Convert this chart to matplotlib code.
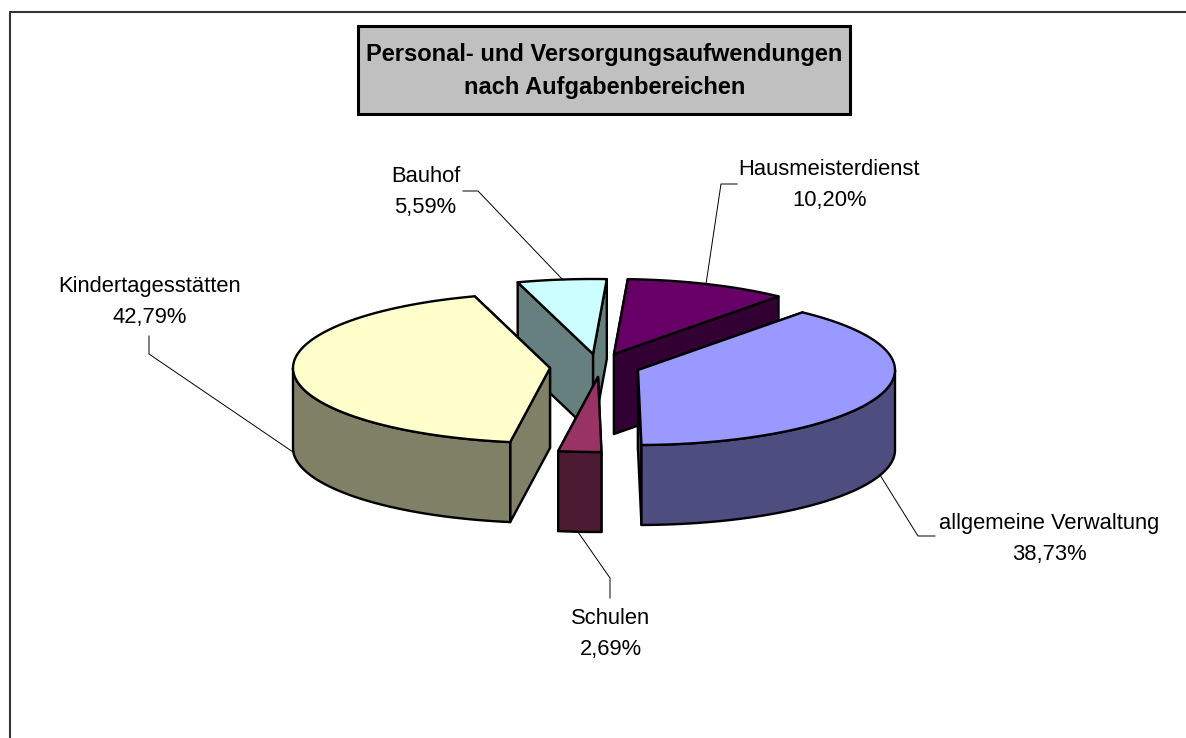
import numpy as np
import matplotlib
matplotlib.use('Agg')
from matplotlib import pyplot as plt
from matplotlib.patches import Polygon, Rectangle

plt.rcParams['font.family'] = ['Liberation Sans', 'DejaVu Sans']

# data, clockwise from the first slice
categories = ['allgemeine Verwaltung', 'Schulen', 'Kindertagesstätten', 'Bauhof', 'Hausmeisterdienst']
values = [38.73, 2.69, 42.79, 5.59, 10.20]
top_colors = ['#9999FF', '#993366', '#FFFFCC', '#CCFFFF', '#660066']
side_colors = ['#4D4D80', '#4D1A33', '#808066', '#668080', '#330033']
title_lines = ['Personal- und Versorgungsaufwendungen', 'nach Aufgabenbereichen']

# layout of the pie in pixels, each slice has its own apex because of the explosion
apexes = [(638, 370), (598, 377), (550, 368), (593, 354), (614, 354)]
rx, ry = 257, 75
depth = 80
start_angle = 39.8
draw_order = [4, 3, 2, 0, 1]

# label centre and leader line for each slice
label_pos = [(1049, 539), (610.5, 634), (150, 302), (425.5, 192), (829.5, 185)]
leaders = [
    [(935, 536), (918, 536), (880, 475)],
    [(610, 598), (610, 578), (578, 532)],
    [(149, 336), (149, 354), (293, 452)],
    [(463, 191), (478, 191), (563, 280)],
    [(737, 184), (721, 184), (706, 284)],
]

fig = plt.figure(figsize=(11.86, 7.38), dpi=100)
ax = fig.add_axes([0, 0, 1, 1])
ax.set_xlim(0, 1186)
ax.set_ylim(738, 0)
ax.axis('off')

# chart frame, only top and left are inside the picture
ax.plot([1186, 10, 10], [12, 12, 738], color='#333333', lw=1.5, zorder=1)

shares = np.array(values) / sum(values) * 360
starts = start_angle + np.concatenate(([0], np.cumsum(shares)[:-1]))


def rim(a, ox, oy, z=0):
    t = np.radians(a)
    return np.column_stack((ox + rx * np.sin(t), oy - ry * np.cos(t) + z))


def face(pts, color, zo):
    ax.add_patch(Polygon(pts, closed=True, facecolor=color, edgecolor='black',
                         lw=1.7, joinstyle='round', zorder=zo))


zo = 2
for i in draw_order:
    a0, a1 = starts[i], starts[i] + shares[i]
    ox, oy = apexes[i]
    apex = np.array([[ox, oy]])
    apex_low = apex + [0, depth]
    arc = rim(np.linspace(a0, a1, 80), ox, oy)

    # radial walls first
    for a in sorted([a0, a1], key=lambda v: -np.cos(np.radians(v))):
        p = rim(a, ox, oy)
        face(np.vstack((apex, p, p + [0, depth], apex_low)), side_colors[i], zo)
        zo += 1

    # outer wall, front half of the rim only
    lo = max(a0, 90)
    hi = min(a1, 270)
    if hi > lo:
        wall = rim(np.linspace(lo, hi, 80), ox, oy)
        face(np.vstack((wall, (wall + [0, depth])[::-1])), side_colors[i], zo)
        zo += 1

    face(np.vstack((apex, arc)), top_colors[i], zo)
    zo += 1

# leaders and labels
for i, name in enumerate(categories):
    xs, ys = zip(*leaders[i])
    ax.plot(xs, ys, color='black', lw=0.7, zorder=50)
    pct = f'{values[i]:.2f}'.replace('.', ',') + '%'
    ax.text(label_pos[i][0], label_pos[i][1], name + '\n' + pct, ha='center', va='center',
            fontsize=15.8, linespacing=1.6, color='black', zorder=51)

# title box
ax.add_patch(Rectangle((358, 26), 492, 88, facecolor='#C0C0C0', edgecolor='black', lw=2.2, zorder=60))
ax.text(604.5, 71, '\n'.join(title_lines), ha='center', va='center', fontsize=17,
        fontweight='bold', linespacing=1.55, color='black', zorder=61)

fig.savefig('out.png', dpi=100)
